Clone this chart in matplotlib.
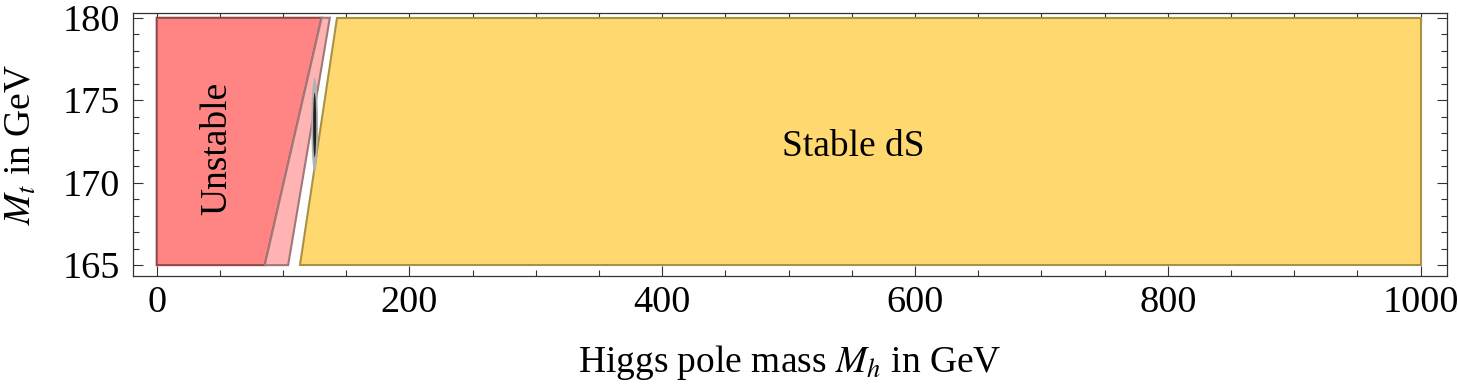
import matplotlib.pyplot as plt
from matplotlib.patches import Ellipse

# ----------------------------------------------------
# Data
# ----------------------------------------------------
mt_range = [165, 180]

# region boundaries: Higgs mass at Mt = 165 and Mt = 180
unstable_mh = [0, 85.5, 130.5, 0]
meta_mh = [85.5, 104, 137, 130.5]
stable_mh = [113, 1000, 1000, 143]
corner_mt = [165, 165, 180, 180]

# measured point (Mh, Mt) with half widths
meas_mh, meas_mt = 125.0, 173.5
meas_dmh, meas_dmt = 1.2, 2.6

# ----------------------------------------------------
# Plot
# ----------------------------------------------------
plt.rcParams["font.family"] = ["Liberation Serif", "DejaVu Serif"]
plt.rcParams["mathtext.fontset"] = "stix"

fig, ax = plt.subplots(figsize=(14.58, 3.89), dpi=100)

ax.fill(unstable_mh, corner_mt, facecolor="#ff8585", edgecolor="#8c4a4a",
        lw=1.5, zorder=2)
ax.fill(meta_mh, corner_mt, facecolor="#ffb3b3", edgecolor="#a07878",
        lw=1.5, zorder=2)
ax.fill(stable_mh, corner_mt, facecolor="#ffd970", edgecolor="#a89245",
        lw=1.5, zorder=2)

ax.add_patch(Ellipse((meas_mh, meas_mt), 2 * meas_dmh * 2.2, 2 * meas_dmt * 1.1,
                     facecolor="#b0b0b0", edgecolor="none", zorder=3))
ax.add_patch(Ellipse((meas_mh, meas_mt), 2 * meas_dmh, 2 * meas_dmt * 0.75,
                     facecolor="#202020", edgecolor="none", zorder=4))

ax.text(47.5, 172.05, "Unstable", rotation=90, ha="center", va="center",
        fontsize=27, zorder=5)
ax.text(551, 172.2, "Stable dS", ha="center", va="center", fontsize=27, zorder=5)

ax.set_xlim(-19, 1021)
ax.set_ylim(164.33, 180.3)
ax.set_xticks([0, 200, 400, 600, 800, 1000])
ax.set_xticks(range(0, 1001, 50), minor=True)
ax.set_yticks([165, 170, 175, 180])
ax.set_yticks(range(165, 181), minor=True)
ax.tick_params(which="both", direction="in", top=True, right=True,
               labelsize=27.5, width=0.8, color="#333333")
ax.tick_params(axis="y", pad=9)
ax.tick_params(axis="x", pad=7)
ax.tick_params(which="major", length=7)
ax.tick_params(which="minor", length=4)
for s in ax.spines.values():
    s.set_color("#333333")
    s.set_linewidth(0.9)

ax.set_xlabel("Higgs pole mass $M_h$ in GeV", fontsize=27, labelpad=16)
ax.set_ylabel("$M_t$ in GeV", fontsize=27, labelpad=17)

plt.subplots_adjust(left=0.091, right=0.9925, top=0.967, bottom=0.29)
plt.savefig("out.png", dpi=100)
